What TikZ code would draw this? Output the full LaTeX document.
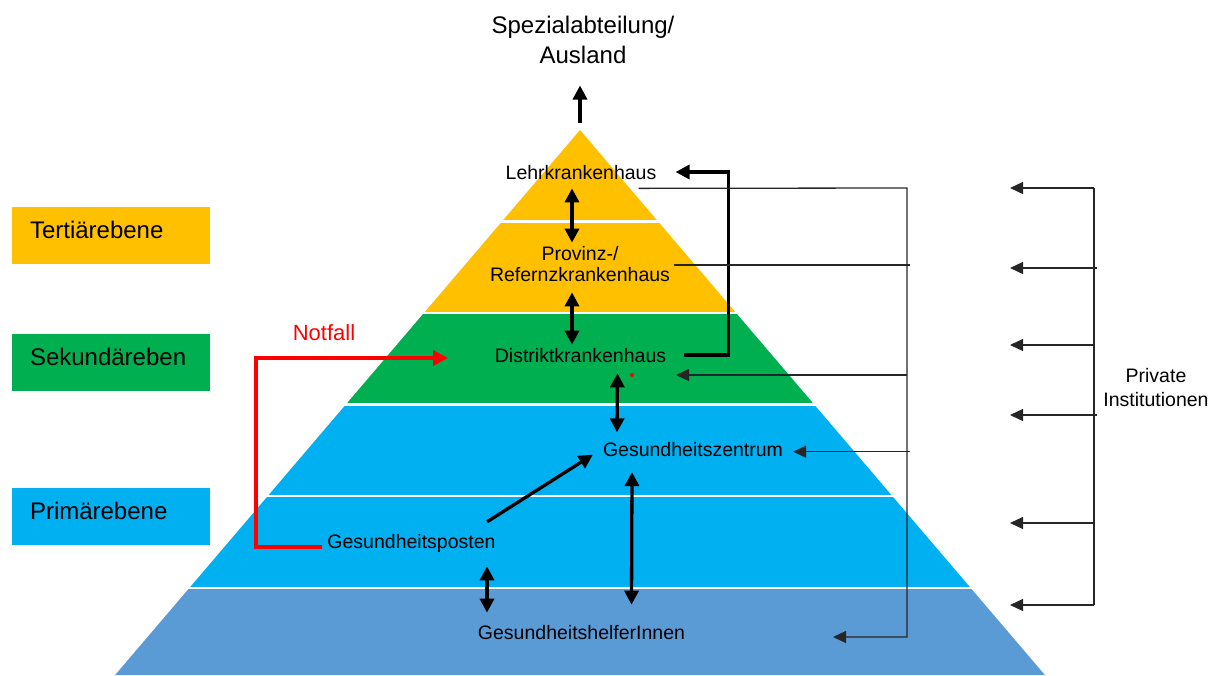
\documentclass[tikz,border=0pt]{standalone}
\usepackage{fontspec}
\setmainfont{Liberation Sans}
\usetikzlibrary{arrows.meta}
\usepackage{xcolor}
\definecolor{gelb}{HTML}{FFC000}
\definecolor{gruen}{HTML}{00B050}
\definecolor{hellblau}{HTML}{00B0F0}
\definecolor{stahlblau}{HTML}{5B9BD5}

\begin{document}
\begin{tikzpicture}[x=1pt,y=-1pt,
  lbl/.style={font=\fontsize{19.5}{21}\selectfont,inner sep=1pt,align=center},
  ebene/.style={font=\fontsize{24}{28}\selectfont,text width=162pt,align=left,inner xsep=18pt,
    minimum height=57pt,text height=17.5pt,text depth=11.3pt},
  dbl/.style={line width=3.3pt,{Triangle[length=14pt,width=14pt]}-{Triangle[length=14pt,width=14pt]}},
  fat/.style={line width=3.3pt,-{Triangle[length=14pt,width=14pt]}},
  thinln/.style={line width=1.3pt,black!85},
  thinarr/.style={thinln,-{Triangle[length=13pt,width=12pt]}},
  notarr/.style={line width=3.8pt,red,-{Triangle[length=15pt,width=15pt]}}]
\useasboundingbox (0,0) rectangle (1210,675);
\newcommand{\pyrband}[3]{
  \fill[#3] ({580-0.853*(#1-130)},#1)--({580+0.853*(#1-130)},#1)
    --({580+0.853*(#2-130)},#2)--({580-0.853*(#2-130)},#2)--cycle;
}

% ---------- pyramid ----------
\pyrband{130}{221.5}{gelb}
\pyrband{221.5}{313}{gelb}
\pyrband{313}{404.5}{gruen}
\pyrband{404.5}{496}{hellblau}
\pyrband{496}{588}{hellblau}
\pyrband{588}{675}{stahlblau}
\foreach \y in {221.5,313,404.5,496,588}
  \draw[white,line width=2.5pt] ({578-0.853*(\y-130)},\y)--({582+0.853*(\y-130)},\y);
\coordinate (apex) at (580,130);

% ---------- levels ----------
\node[ebene,fill=gelb]      (tert) at (111,235.5) {Terti\"arebene};
\node[ebene,fill=gruen]     (sek)  at (111,362.5) {Sekund\"areben};
\node[ebene,fill=hellblau]  (prim) at (111,516.5) {Prim\"arebene};

% ---------- facilities ----------
\node[lbl,font=\fontsize{24}{30}\selectfont] (spez) at (583,39.5) {Spezialabteilung/\\Ausland};
\node[lbl] (lehr)    at (581,173)   {Lehrkrankenhaus};
\node[lbl] (prov)    at (580,264.5) {Provinz-/\\Refernzkrankenhaus};
\node[lbl] (distr)   at (580.5,356) {Distriktkrankenhaus};
\node[lbl] (zentrum) at (693,449.7) {Gesundheitszentrum};
\node[lbl] (posten)  at (411.5,543) {Gesundheitsposten};
\node[lbl] (helfer)  at (581.5,633) {GesundheitshelferInnen};
\node[lbl,font=\fontsize{19.5}{24}\selectfont] (priv) at (1156,388) {Private\\Institutionen};
\node[lbl,red,font=\fontsize{22}{24}\selectfont] (notfall) at (324,333) {Notfall};
\fill[red] (632,375) circle (2pt);

% ---------- referrals ----------
\draw[fat] ([yshift=7pt]apex)--([xshift=-3pt,yshift=-21pt]spez.south);
\draw[dbl] ([xshift=-9pt,yshift=-7pt]lehr.south)--([xshift=-8pt,yshift=3pt]prov.north);
\draw[dbl] ([xshift=-8pt,yshift=-9pt]prov.south)--([xshift=-8.5pt,yshift=3pt]distr.north);
\draw[dbl] ([xshift=37pt,yshift=-9pt]distr.south)--([xshift=-76pt,yshift=9pt]zentrum.north);
\draw[dbl] ([xshift=-61pt,yshift=-14pt]zentrum.south)--([xshift=50pt,yshift=20pt]helfer.north);
\draw[dbl] ([xshift=75.5pt,yshift=-13pt]posten.south)--([xshift=-94.5pt,yshift=12pt]helfer.north);
\draw[fat] ([xshift=-9.5pt,yshift=11pt]posten.north east)--([xshift=-9pt,yshift=-5pt]zentrum.west);
\draw[fat] ([xshift=17pt,yshift=1pt]distr.east)--++(44,0)|-([xshift=18pt,yshift=1pt]lehr.east);

% ---------- Notfall ----------
\coordinate (nfEck) at (256,547);
\coordinate (nfZiel) at (448,358);
\draw[notarr] ([xshift=-4pt,yshift=-4pt]posten.west)--(nfEck)|-(nfZiel);

% ---------- rail to facilities ----------
\coordinate (railT) at (907,188);
\coordinate (railB) at (907,637);
\coordinate (hIn) at (833,637);
\coordinate (dIn) at (676,375);
\coordinate (prOut) at (674,265);
\draw[thinarr] ([xshift=-19pt,yshift=-7pt]lehr.south east)--(railT)--(railB)--(hIn);
\draw[thinln] (prOut)--([xshift=3pt]prOut-|railT);
\draw[thinarr] (dIn-|railT)--(dIn);
\draw[thinarr] ([xshift=3pt,yshift=-2pt]zentrum.east-|railT)--([xshift=9pt,yshift=-2pt]zentrum.east);

% ---------- rail of private institutions ----------
\coordinate (privT) at (1094,188);
\coordinate (privB) at (1094,605);
\draw[thinln] (privT)--(privB);
\foreach \y/\e in {188/0,268/3,345/0,415/3,523/0,605/0}
  \draw[thinarr] (1094+\e,\y)--(1010,\y);

\end{tikzpicture}
\end{document}
